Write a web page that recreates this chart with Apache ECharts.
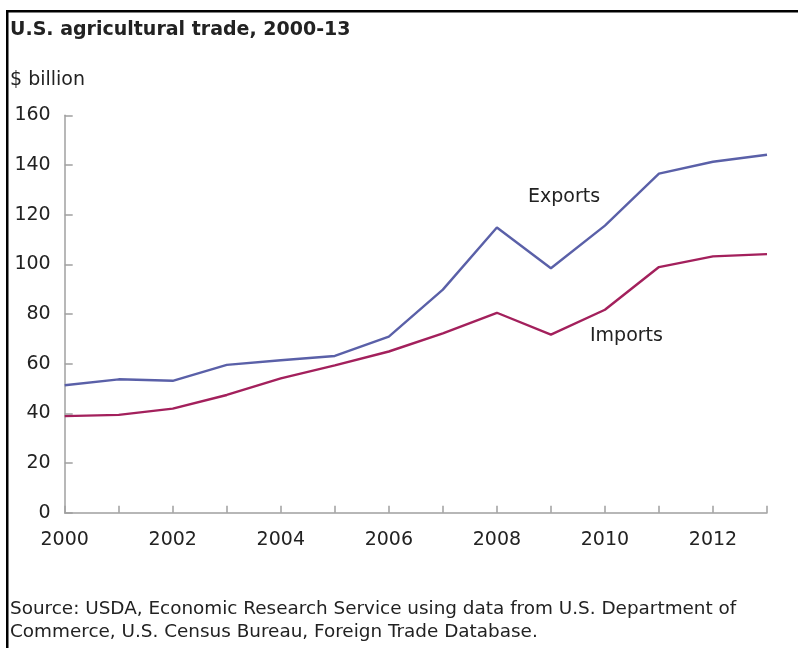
<!DOCTYPE html>
<html>
<head>
<meta charset="utf-8">
<script src="https://cdn.jsdelivr.net/npm/echarts@6/dist/echarts.min.js"></script>
<style>
html,body{margin:0;padding:0;background:#fff;}
#c{width:798px;height:648px;}
</style>
</head>
<body>
<div id="c"></div>
<script>
const years = [2000,2001,2002,2003,2004,2005,2006,2007,2008,2009,2010,2011,2012,2013];
const exportsVals = [51.3,53.7,53.1,59.5,61.4,63.1,70.9,89.8,114.8,98.4,115.6,136.5,141.3,144.1];
const importsVals = [38.9,39.4,41.9,47.4,54.1,59.3,64.9,72.2,80.5,71.7,81.7,98.9,103.2,104.1];
const yTicks = [0,20,40,60,80,100,120,140,160];
const xLabelYears = [2000,2002,2004,2006,2008,2010,2012];

const font = '"DejaVu Sans", Verdana, sans-serif';
const chart = echarts.init(document.getElementById('c'), null, {renderer:'canvas'});
chart.setOption({
  backgroundColor:'#fff',
  animation:false,
  grid:{left:64.7, right:31, top:115.3, bottom:135.3, containLabel:false},
  xAxis:{
    type:'value', min:2000, max:2013, interval:1,
    axisLine:{show:true, lineStyle:{color:'#a0a0a0', width:1.5}},
    axisTick:{show:true, inside:true, length:7, lineStyle:{color:'#a0a0a0', width:1.5}},
    splitLine:{show:false},
    axisLabel:{
      fontFamily:font, fontSize:19, color:'#222', margin:18,
      formatter:function(v){ return xLabelYears.indexOf(v) >= 0 ? String(v) : ''; }
    }
  },
  yAxis:{
    type:'value', min:yTicks[0], max:yTicks[yTicks.length-1], interval:20,
    axisLine:{show:true, lineStyle:{color:'#a0a0a0', width:1.5}},
    axisTick:{show:true, inside:true, length:8, lineStyle:{color:'#a0a0a0', width:1.5}},
    splitLine:{show:false},
    axisLabel:{fontFamily:font, fontSize:19, color:'#222', margin:14}
  },
  series:[
    {name:'Exports', type:'line', data:years.map((y,i)=>[y,exportsVals[i]]),
     symbol:'none', lineStyle:{color:'#5a60a8', width:2.4}, itemStyle:{color:'#5a60a8'}},
    {name:'Imports', type:'line', data:years.map((y,i)=>[y,importsVals[i]]),
     symbol:'none', lineStyle:{color:'#a3205c', width:2.4}, itemStyle:{color:'#a3205c'}}
  ],
  graphic:[
    {type:'rect', shape:{x:6, y:10, width:792, height:2.5}, style:{fill:'#000'}},
    {type:'rect', shape:{x:6, y:10, width:2.5, height:640}, style:{fill:'#000'}},
    {type:'text', style:{x:10, y:30, textVerticalAlign:'middle', text:'U.S. agricultural trade, 2000-13', font:'bold 19px '+font, fill:'#222'}},
    {type:'text', style:{x:10, y:80, textVerticalAlign:'middle', text:'$ billion', font:'19px '+font, fill:'#222'}},
    {type:'text', style:{x:528, y:197, textVerticalAlign:'middle', text:'Exports', font:'19px '+font, fill:'#222'}},
    {type:'text', style:{x:590, y:336, textVerticalAlign:'middle', text:'Imports', font:'19px '+font, fill:'#222'}},
    {type:'text', style:{x:10, y:609, textVerticalAlign:'middle', text:'Source: USDA, Economic Research Service using data from U.S. Department of', font:'18.4px '+font, fill:'#222'}},
    {type:'text', style:{x:10, y:632, textVerticalAlign:'middle', text:'Commerce, U.S. Census Bureau, Foreign Trade Database.', font:'18.4px '+font, fill:'#222'}}
  ]
});
</script>
</body>
</html>
